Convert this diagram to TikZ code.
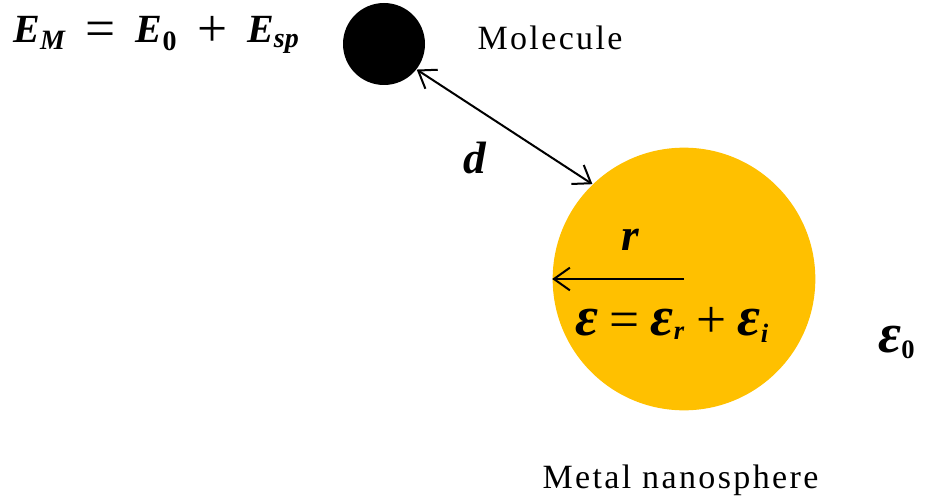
\documentclass[tikz,border=0pt]{standalone}
\usepackage{fontspec}
\setmainfont{Liberation Serif}
\usetikzlibrary{arrows.meta}
\newcommand{\bigeps}{{\fontsize{42}{42}\selectfont ε}}
\newcommand{\opsp}[1]{\hspace{0.3em}\raisebox{-2pt}{\fontsize{40}{40}\selectfont\mdseries\upshape #1}\hspace{0.3em}}
\newcommand{\bigop}[1]{\hspace{0.5em}\raisebox{-3pt}{\fontsize{40}{40}\selectfont\mdseries\upshape #1}\hspace{0.5em}}
\begin{document}
\tikzset{every picture/.style={line width=0.75pt}}

\begin{tikzpicture}[x=0.75pt,y=0.75pt,yscale=-1,xscale=1,
  ball/.style={circle,inner sep=0pt,draw=none},
  lbl/.style={inner sep=0pt,font=\fontsize{25.5}{30}\selectfont\addfontfeature{LetterSpace=7}},
  mth/.style={inner sep=0pt,font=\fontsize{28.5}{32}\selectfont\bfseries\itshape},
  big/.style={inner sep=0pt,font=\fontsize{34}{38}\selectfont\bfseries\itshape},
  barb/.style={line width=1.5pt,-{Straight Barb[length=12pt,width=17pt,line width=1.5pt]}},
  dbarb/.style={line width=1.5pt,{Straight Barb[length=12pt,width=17pt,line width=1.5pt]}-{Straight Barb[length=12pt,width=17pt,line width=1.5pt]}}]
\useasboundingbox (0,0) rectangle (925,503);

%Shape: Circle [id:molecule]
\node [ball,fill=black,minimum size=61.5pt] (mol) at (384,44) {};
%Shape: Circle [id:nanosphere]
\node [ball,fill={rgb, 255:red, 255; green, 192; blue, 0 },minimum size=197pt] (nano) at (684,279) {};

%Straight Lines [id:distance]
\draw [dbarb] (mol.-38) -- (nano.134) ;
%Straight Lines [id:radius]
\draw [barb] (nano.center) -- (nano.west) ;

% Text Node
\node [mth,font=\fontsize{30}{34}\selectfont\bfseries\itshape,anchor=base west] (energy) at (13,43) {E\textsubscript{M}\bigop{=}E\textsubscript{\upshape 0}\bigop{+}E\textsubscript{sp}};
% Text Node
\node [lbl,anchor=base west] (mollbl) at (477,50) {Molecule};
% Text Node
\node [big,anchor=base] (dlbl) at (475,173) {d};
% Text Node
\node [big,anchor=base] (rlbl) at (630,250) {r};
% Text Node
\node [mth,anchor=base] (perm) at (672,335) {\bigeps\opsp{=}\bigeps\textsubscript{r}\opsp{+}\bigeps\textsubscript{i}};
% Text Node
\node [mth,anchor=base west] (epsout) at (878,352) {\bigeps\textsubscript{\upshape 0}};
% Text Node
\node [lbl,anchor=base west] (nanolbl) at (542,488) {Metal nanosphere};

\end{tikzpicture}
\end{document}
